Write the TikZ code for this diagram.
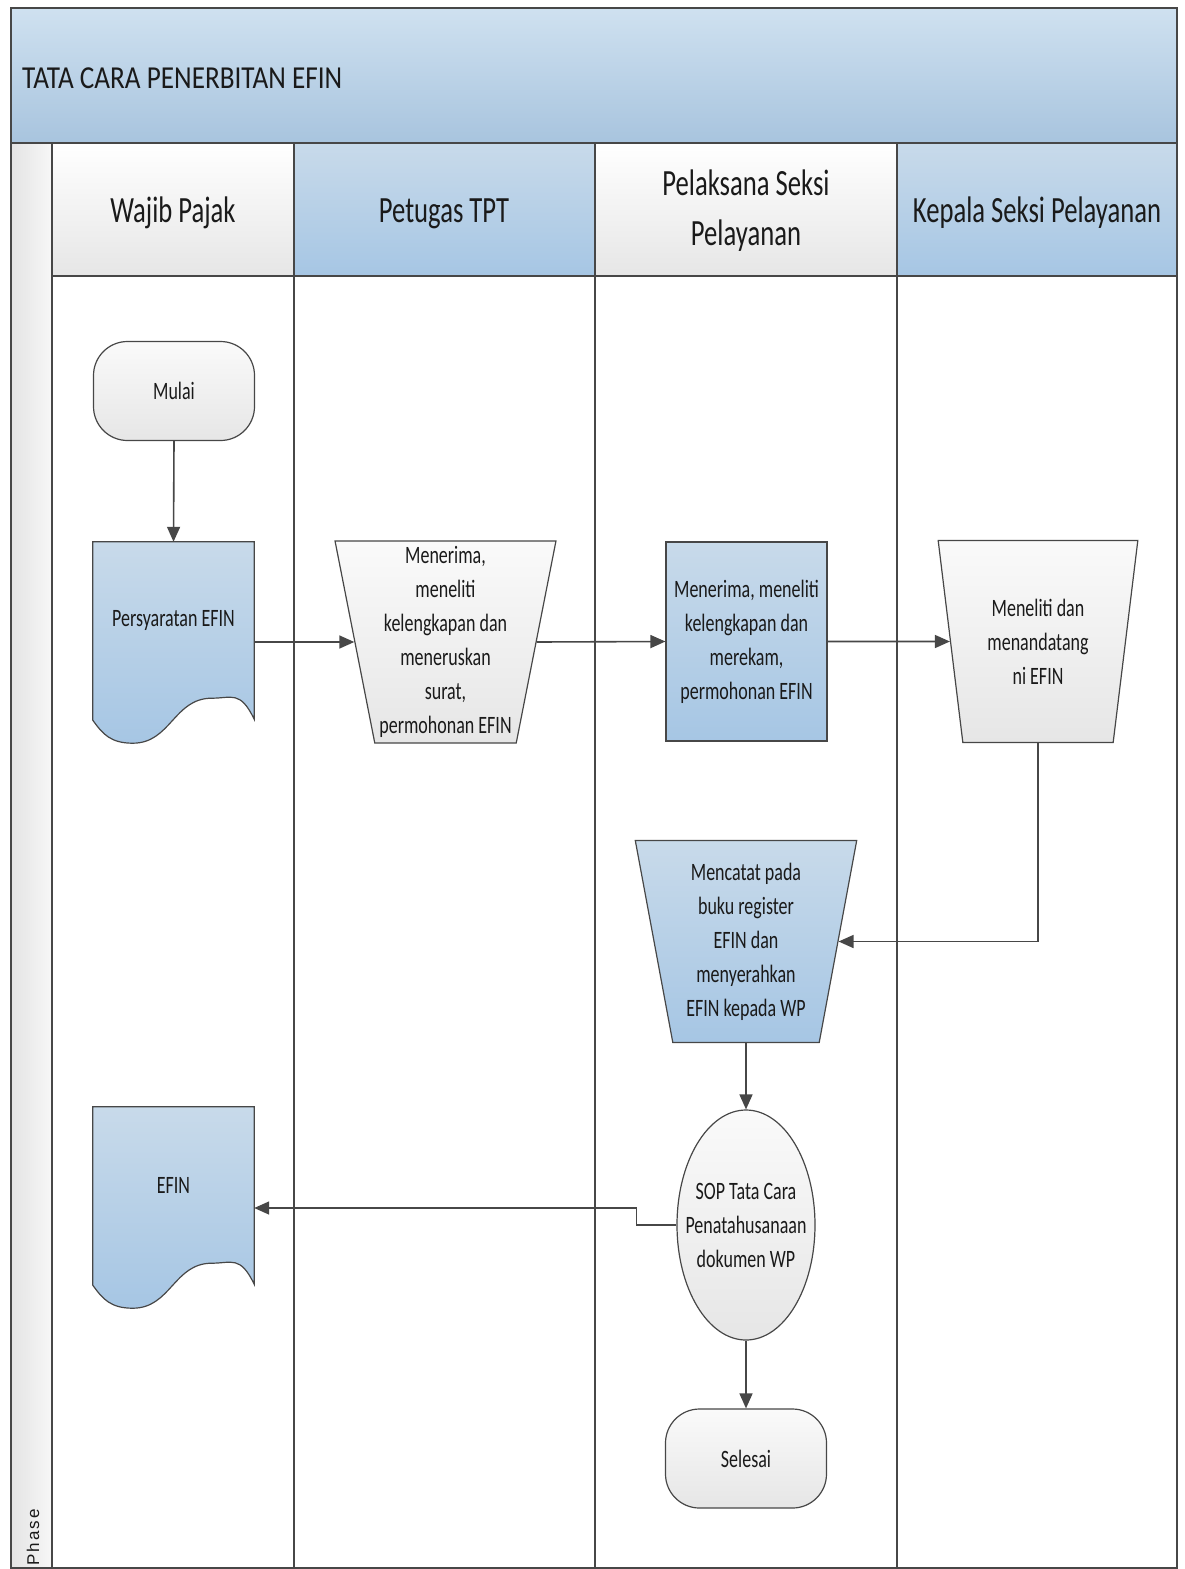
\documentclass[tikz,border=0pt]{standalone}
\usepackage{fontspec}
\setmainfont[FakeStretch=0.72]{Carlito}
\newfontfamily\titlefont[FakeStretch=0.85]{Carlito}
\newfontfamily\phasefont[LetterSpace=12]{Liberation Sans}
\usepackage{tikz}
\usetikzlibrary{shapes.geometric, arrows.meta, positioning, calc, backgrounds}

\definecolor{bandtop}{HTML}{CFE1F0}
\definecolor{bandbot}{HTML}{A8C4DE}
\definecolor{celltop}{HTML}{FFFFFF}
\definecolor{cellbot}{HTML}{E6E6E6}
\definecolor{bluetop}{HTML}{C8DAEA}
\definecolor{bluebot}{HTML}{A6C6E4}
\definecolor{greytop}{HTML}{FAFAFA}
\definecolor{greybot}{HTML}{E6E6E6}
\definecolor{phaseleft}{HTML}{E4E4E4}
\definecolor{phaseright}{HTML}{F7F7F7}
\definecolor{edge}{HTML}{474747}
\definecolor{ink}{HTML}{1A1A1A}

\tikzset{
  lane/.style={draw=edge, line width=1.5pt},
  hdrblue/.style={lane, top color=bluetop, bottom color=bluebot},
  hdrwhite/.style={lane, top color=celltop, bottom color=cellbot},
  hdrtext/.style={text=ink, align=center, inner sep=0pt, font=\fontsize{37}{50}\selectfont},
  boxtext/.style={text=ink, align=center, inner sep=0pt, font=\fontsize{25}{34}\selectfont},
  shapeline/.style={draw=edge, line width=1.2pt},
  bluefill/.style={top color=bluetop, bottom color=bluebot},
  greyfill/.style={top color=greytop, bottom color=greybot},
  terminal/.style={boxtext, shapeline, greyfill, rectangle, rounded corners=34pt,
    minimum width=161pt, minimum height=99pt},
  process/.style={boxtext, shapeline, bluefill, rectangle,
    minimum width=161pt, minimum height=199pt},
  manual/.style={boxtext, shapeline, trapezium, trapezium left angle=101,
    trapezium right angle=101, trapezium stretches=true, minimum height=202pt},
  document/.style={boxtext, rectangle, minimum width=161pt, minimum height=156pt},
  docshape/.style={shapeline, bluefill},
  flow/.style={draw=edge, line width=1.6pt, -{Triangle[length=15pt,width=13pt]}},
}

\begin{document}
\begin{tikzpicture}[x=1pt, y=-1pt]
\useasboundingbox (0,0) rectangle (1184,1569);

% Title band
\draw[lane, top color=bandtop, bottom color=bandbot] (11,8) rectangle (1177,143);
\node[anchor=base west, text=ink, inner sep=0pt, font=\titlefont\fontsize{32}{36}\selectfont] (title) at (22,88) {TATA CARA PENERBITAN EFIN};

% Phase column and lanes
\draw[lane, left color=phaseleft, right color=phaseright] (11,143) rectangle (52,1568);
\draw[lane] (52,276) rectangle (294,1568);
\draw[lane] (294,276) rectangle (595,1568);
\draw[lane] (595,276) rectangle (897,1568);
\draw[lane] (897,276) rectangle (1177,1568);
\node[rotate=90, anchor=west, inner sep=0pt, text=ink, font=\phasefont\fontsize{17}{20}\selectfont] (phase) at (33,1566) {Phase};

% Lane headers
\draw[hdrwhite] (52,143) rectangle (294,276);
\draw[hdrblue] (294,143) rectangle (595,276);
\draw[hdrwhite] (595,143) rectangle (897,276);
\draw[hdrblue] (897,143) rectangle (1177,276);
\node[hdrtext, anchor=base] (wajib) at (173,222) {Wajib Pajak};
\node[hdrtext, anchor=base] (tpt) at (444,222) {Petugas TPT};
\node[hdrtext] (pelaksana) at (746,211) {Pelaksana Seksi\\ Pelayanan};
\node[hdrtext, anchor=base] (kepala) at (1037,222) {Kepala Seksi Pelayanan};

% Steps
\node[terminal] (mulai) at (174,391) {Mulai};
\node[document] (syarat) at (173.5,620) {Persyaratan EFIN};
\node[manual, greyfill, minimum width=221pt] (terima) at (445.5,642) {Menerima,\\ meneliti\\ kelengkapan dan\\ meneruskan\\ surat,\\ permohonan EFIN};
\node[process] (rekam) at (746.5,641.5) {Menerima, meneliti\\ kelengkapan dan\\ merekam,\\ permohonan EFIN};
\node[manual, greyfill, minimum width=200pt] (teken) at (1038,641.5) {Meneliti dan\\ menandatang\\ ni EFIN};
\node[manual, bluefill, minimum width=222pt] (catat) at (746,941.5) {Mencatat pada\\ buku register\\ EFIN dan\\ menyerahkan\\ EFIN kepada WP};
\node[ellipse, shapeline, greyfill, minimum width=138pt, minimum height=230pt,
  label={[name=soptext, boxtext]center:{SOP Tata Cara\\ Penatahusanaan\\ dokumen WP}}] (sop) at (746,1225) {};
\node[terminal] (selesai) at (746,1458.5) {Selesai};
\node[document] (efin) at (173.5,1185) {EFIN};

% Document outlines behind their texts
\begin{scope}[on background layer]
\foreach \d in {syarat, efin} {
  \draw[docshape] (\d.north west) -- (\d.north east) -- ($(\d.south east)+(0,21)$)
    .. controls ($(\d.south east)+(-14,-8)$) and ($(\d.south west)+(139,0)$) .. ($(\d.south west)+(119,0)$)
    .. controls ($(\d.south west)+(81,0)$) and ($(\d.south west)+(78,45)$) .. ($(\d.south west)+(40,45)$)
    .. controls ($(\d.south west)+(18,45)$) and ($(\d.south west)+(10,36)$) .. ($(\d.south west)+(0,22)$)
    -- cycle;
}
\end{scope}

% Flow
\draw[flow] (mulai.south) -- (syarat.north);
\draw[flow] (terima.west -| syarat.east) -- (terima.west);
\draw[flow] (terima.east) -- (rekam.west);
\draw[flow] (rekam.east) -- (teken.west);
\draw[flow] (teken.south) |- (catat.east);
\draw[flow] (catat.south) -- (sop.north);
\draw[flow] (sop.south) -- (selesai.north);
\draw[flow] (sop.west) -- ++(-40,0) |- ($(efin.east)+(0,23)$);
\end{tikzpicture}
\end{document}
